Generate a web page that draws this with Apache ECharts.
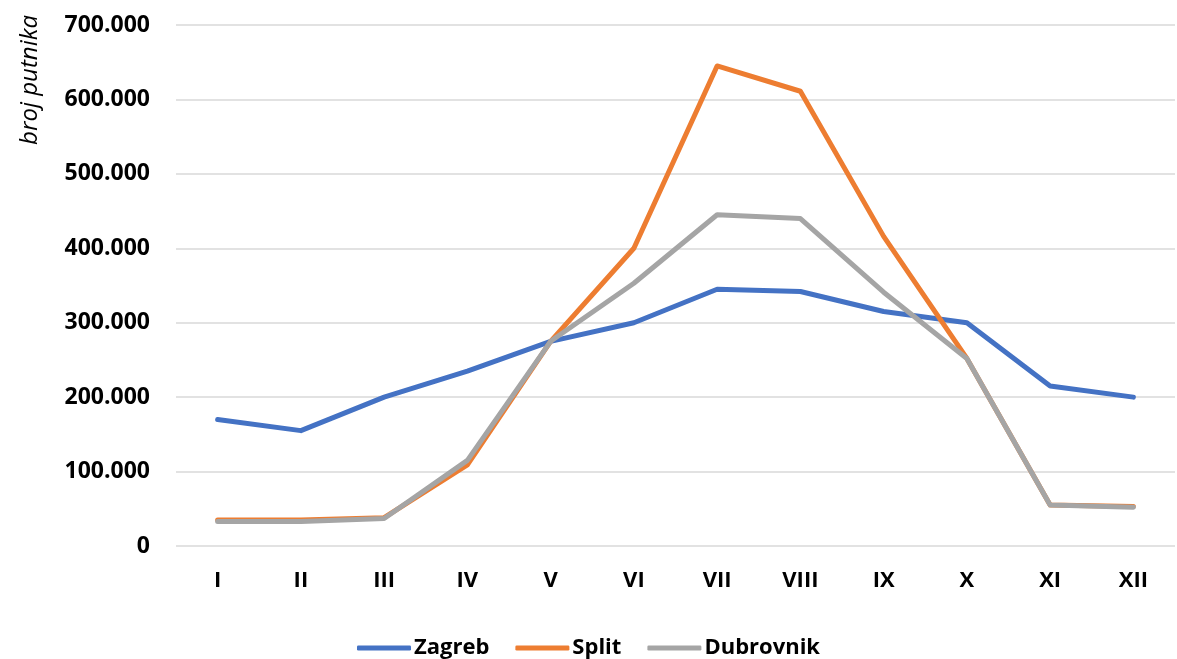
<!DOCTYPE html>
<html>
<head>
<meta charset="utf-8">
<script src="https://cdn.jsdelivr.net/npm/echarts@6/dist/echarts.min.js"></script>
<style>
  html, body { margin: 0; padding: 0; background: #fff; }
  #chart { width: 1177px; height: 659px; }
</style>
</head>
<body>
<div id="chart"></div>
<script>
// Monthly passenger counts per airport
const months = ['I', 'II', 'III', 'IV', 'V', 'VI', 'VII', 'VIII', 'IX', 'X', 'XI', 'XII'];
const zagreb = [170000, 155000, 200000, 235000, 275000, 300000, 345000, 342000, 315000, 300000, 215000, 200000];
const split = [35000, 35000, 38000, 109000, 275000, 400000, 645000, 611000, 416000, 252000, 55000, 53000];
const dubrovnik = [33000, 33000, 37000, 115000, 275000, 353000, 445000, 440000, 341000, 252000, 55000, 52000];
const seriesNames = ['Zagreb', 'Split', 'Dubrovnik'];
const colors = ['#4472C4', '#ED7D31', '#A5A5A5'];

const FONT = '"Open Sans", "Liberation Sans", sans-serif';

function fmt(v) {
  return String(v).replace(/\B(?=(\d{3})+(?!\d))/g, '.');
}

const chart = echarts.init(document.getElementById('chart'), null, { renderer: 'canvas' });

const dataSets = [zagreb, split, dubrovnik];

chart.setOption({
  animation: false,
  backgroundColor: '#ffffff',
  color: colors,
  grid: { left: 176, right: 2, top: 25, bottom: 113, containLabel: false },
  xAxis: {
    type: 'category',
    data: months,
    boundaryGap: true,
    axisLine: { show: false },
    axisTick: { show: false },
    axisLabel: { color: '#000', fontFamily: FONT, fontWeight: 'bold', fontSize: 22, margin: 24 }
  },
  yAxis: {
    type: 'value',
    min: 0,
    max: 700000,
    interval: 100000,
    axisLine: { show: false },
    axisTick: { show: false },
    splitLine: { lineStyle: { color: '#d9d9d9', width: 1.5 } },
    axisLabel: {
      color: '#000', fontFamily: FONT, fontWeight: 'bold', fontSize: 23, margin: 26,
      formatter: fmt
    }
  },
  legend: {
    bottom: -5,
    left: 'center',
    itemWidth: 54,
    itemHeight: 5,
    itemGap: 26,
    icon: 'roundRect',
    textStyle: { color: '#000', fontFamily: FONT, fontWeight: 'bold', fontSize: 22, padding: [0, 0, 0, -2] },
    data: seriesNames
  },
  series: seriesNames.map((name, i) => ({
    name: name,
    type: 'line',
    data: dataSets[i],
    symbol: 'none',
    smooth: false,
    lineStyle: { width: 5, color: colors[i], cap: 'round', join: 'round' },
    itemStyle: { color: colors[i] },
    z: 2 + i
  })),
  // Rotated axis title beside the tick labels
  graphic: [{
    type: 'text',
    left: 18,
    top: 15,
    rotation: Math.PI / 2,
    style: {
      text: 'broj putnika',
      fill: '#000',
      font: 'italic 24px ' + FONT,
      textAlign: 'right',
      textVerticalAlign: 'top'
    }
  }]
});
</script>
</body>
</html>
